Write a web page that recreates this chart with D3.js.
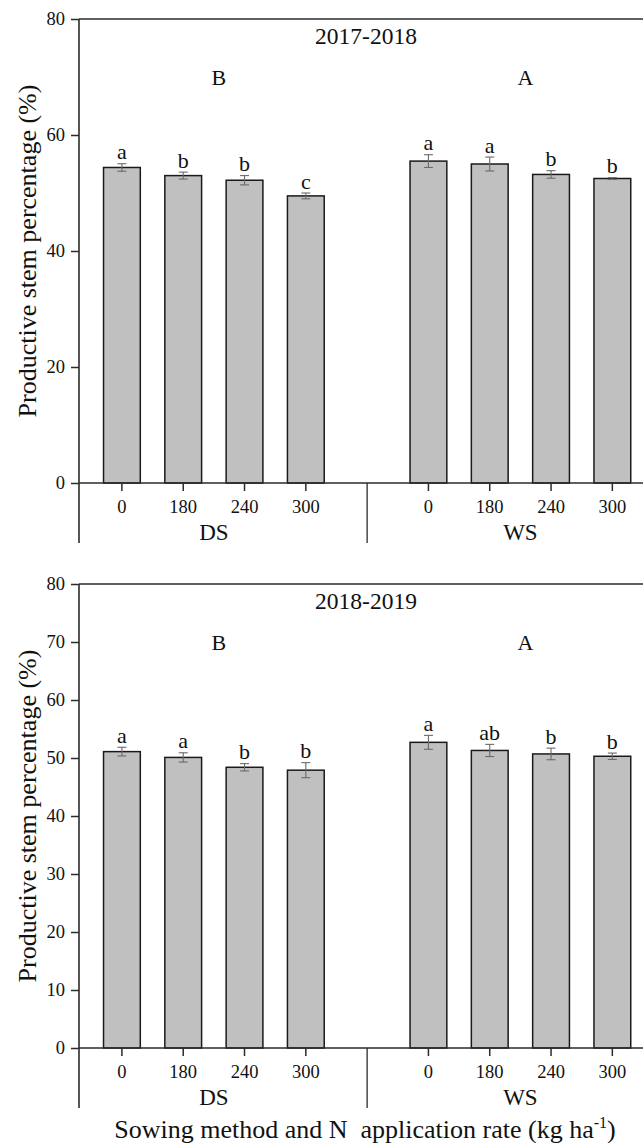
<!DOCTYPE html>
<html>
<head>
<meta charset="utf-8">
<script src="https://cdn.jsdelivr.net/npm/d3@7"></script>
<style>
  html, body { margin: 0; padding: 0; background: #fff; }
  svg { display: block; }
  text { font-family: "Liberation Serif", "Times New Roman", serif; fill: #111; }
</style>
</head>
<body>
<svg id="chart" width="643" height="1143"></svg>
<script>
// ---- data ----
const rates = ["0", "180", "240", "300"];
const methods = ["DS", "WS"];
const years = ["2017-2018", "2018-2019"];

const ds1718 = [54.4, 53.0, 52.2, 49.5];
const ds1718Err = [0.65, 0.6, 0.8, 0.5];
const ds1718Sig = ["a", "b", "b", "c"];
const ws1718 = [55.5, 55.0, 53.2, 52.5];
const ws1718Err = [1.1, 1.2, 0.65, 0.15];
const ws1718Sig = ["a", "a", "b", "b"];
const methodSig1718 = ["B", "A"];

const ds1819 = [51.1, 50.1, 48.4, 47.9];
const ds1819Err = [0.75, 0.8, 0.63, 1.3];
const ds1819Sig = ["a", "a", "b", "b"];
const ws1819 = [52.7, 51.3, 50.7, 50.3];
const ws1819Err = [1.2, 1.05, 1.0, 0.55];
const ws1819Sig = ["a", "ab", "b", "b"];
const methodSig1819 = ["B", "A"];

const ticks1718 = [0, 20, 40, 60, 80];
const ticks1819 = [0, 10, 20, 30, 40, 50, 60, 70, 80];

const yTitle = "Productive stem percentage (%)";

// ---- layout ----
const svg = d3.select("#chart");
const left = 79, right = 643;
const x = d3.scaleLinear().domain([-0.7, 8.5]).range([left, right]);
const unit = x(1) - x(0);
const barW = unit * 0.6;

function buildRows(dsV, dsE, dsS, wsV, wsE, wsS) {
  const rows = [];
  rates.forEach((r, i) => rows.push({ m: "DS", r, pos: i, v: dsV[i], e: dsE[i], s: dsS[i] }));
  rates.forEach((r, i) => rows.push({ m: "WS", r, pos: i + 5, v: wsV[i], e: wsE[i], s: wsS[i] }));
  return rows;
}

const panels = [
  { year: years[0], top: 19, bottom: 483, ticks: ticks1718, methodSig: methodSig1718,
    rows: buildRows(ds1718, ds1718Err, ds1718Sig, ws1718, ws1718Err, ws1718Sig) },
  { year: years[1], top: 584, bottom: 1048, ticks: ticks1819, methodSig: methodSig1819,
    rows: buildRows(ds1819, ds1819Err, ds1819Sig, ws1819, ws1819Err, ws1819Sig) }
];

const axisColor = "#2b2b2b";

panels.forEach(p => {
  const y = d3.scaleLinear().domain([0, 80]).range([p.bottom, p.top]);
  const g = svg.append("g");

  // bars
  g.selectAll("rect.bar").data(p.rows).enter().append("rect")
    .attr("x", d => x(d.pos) - barW / 2)
    .attr("y", d => y(d.v))
    .attr("width", barW)
    .attr("height", d => y(0) - y(d.v))
    .attr("fill", "#c0c0c0")
    .attr("stroke", "#1a1a1a")
    .attr("stroke-width", 1.5);

  // error bars
  const eg = g.selectAll("g.err").data(p.rows).enter().append("g")
    .attr("stroke", "#6a6a6a").attr("stroke-width", 1.1);
  eg.append("line")
    .attr("x1", d => x(d.pos)).attr("x2", d => x(d.pos))
    .attr("y1", d => y(d.v + d.e)).attr("y2", d => y(d.v - d.e));
  eg.append("line")
    .attr("x1", d => x(d.pos) - 4.5).attr("x2", d => x(d.pos) + 4.5)
    .attr("y1", d => y(d.v + d.e)).attr("y2", d => y(d.v + d.e));
  eg.append("line")
    .attr("x1", d => x(d.pos) - 4.5).attr("x2", d => x(d.pos) + 4.5)
    .attr("y1", d => y(d.v - d.e)).attr("y2", d => y(d.v - d.e));

  // significance letters
  g.selectAll("text.sig").data(p.rows).enter().append("text")
    .attr("x", d => x(d.pos))
    .attr("y", d => y(d.v + d.e) - 4.5)
    .attr("text-anchor", "middle")
    .attr("font-size", 22)
    .text(d => d.s);

  // y axis
  const yAxis = d3.axisLeft(y).tickValues(p.ticks).tickSize(8).tickPadding(6).tickFormat(d3.format("d"));
  const ya = g.append("g").attr("transform", `translate(${left},0)`).call(yAxis);
  ya.select(".domain").remove();
  ya.selectAll(".tick line").attr("stroke", axisColor).attr("stroke-width", 1.5);
  ya.selectAll(".tick text").attr("font-size", 18.5).attr("font-family", "Liberation Serif").attr("fill", "#111");

  // axis frame lines
  g.append("line").attr("x1", left).attr("x2", left).attr("y1", p.top).attr("y2", p.bottom + 60)
    .attr("stroke", axisColor).attr("stroke-width", 1.6);
  g.append("line").attr("x1", left).attr("x2", right).attr("y1", p.top).attr("y2", p.top)
    .attr("stroke", axisColor).attr("stroke-width", 1.6);
  g.append("line").attr("x1", left).attr("x2", right).attr("y1", p.bottom).attr("y2", p.bottom)
    .attr("stroke", axisColor).attr("stroke-width", 1.6);
  // group separator
  g.append("line").attr("x1", x(4)).attr("x2", x(4)).attr("y1", p.bottom).attr("y2", p.bottom + 60)
    .attr("stroke", axisColor).attr("stroke-width", 1.3);

  // x ticks & labels
  g.selectAll("line.xt").data(p.rows).enter().append("line")
    .attr("x1", d => x(d.pos)).attr("x2", d => x(d.pos))
    .attr("y1", p.bottom).attr("y2", p.bottom + 8)
    .attr("stroke", axisColor).attr("stroke-width", 1.5);
  g.selectAll("text.xl").data(p.rows).enter().append("text")
    .attr("x", d => x(d.pos)).attr("y", p.bottom + 30)
    .attr("text-anchor", "middle").attr("font-size", 18.5)
    .text(d => d.r);

  // method labels
  methods.forEach((m, i) => {
    const c = (x(i * 5) + x(i * 5 + 3)) / 2;
    g.append("text").attr("x", c).attr("y", p.bottom + 57)
      .attr("text-anchor", "middle").attr("font-size", 23).text(m);
    g.append("text").attr("x", c + 5).attr("y", p.top + 66)
      .attr("text-anchor", "middle").attr("font-size", 22).text(p.methodSig[i]);
  });

  // year title
  g.append("text").attr("x", 366).attr("y", p.top + 25)
    .attr("text-anchor", "middle").attr("font-size", 23.5).text(p.year);

  // y title
  g.append("text")
    .attr("transform", `translate(36,${(p.top + p.bottom) / 2}) rotate(-90)`)
    .attr("text-anchor", "middle").attr("font-size", 26).text(yTitle);
});

// x title
const xt = svg.append("text").attr("x", 365).attr("y", 1138)
  .attr("text-anchor", "middle").attr("font-size", 26);
xt.append("tspan").text("Sowing method and N\u00a0 application rate (kg ha");
xt.append("tspan").attr("font-size", 16).attr("dy", -10).text("-1");
xt.append("tspan").attr("dy", 10).text(")");
</script>
</body>
</html>
